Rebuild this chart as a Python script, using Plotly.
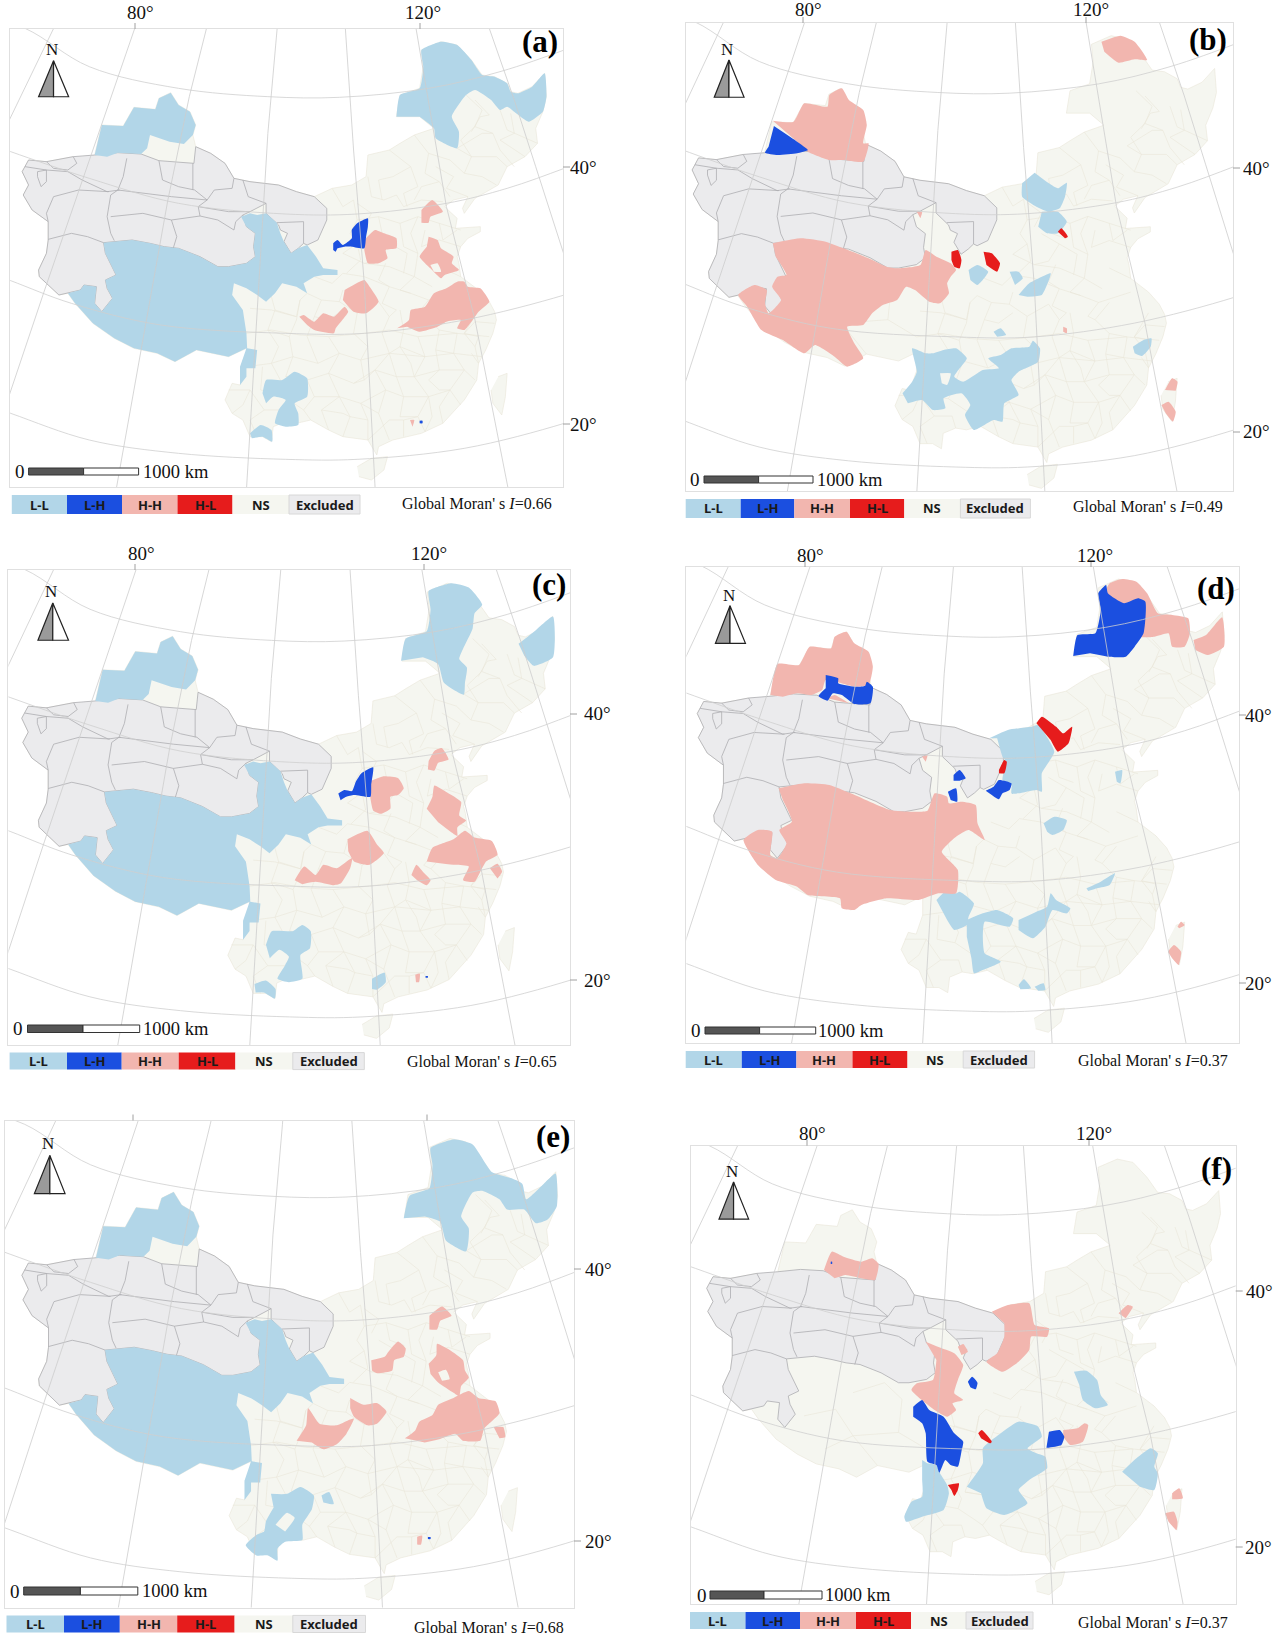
import plotly.graph_objs as go

W = 1278
H = 1637

# colours and labels of the classes
CLASSES = ['L-L', 'L-H', 'H-H', 'H-L', 'NS', 'Excluded']
CLASS_COLORS = ['#b2d6e8', '#1b4fe0', '#f2b6af', '#e61c1c', '#f5f6f0', '#ebebed']
MORAN_I = ['0.66', '0.49', '0.65', '0.37', '0.68', '0.37']
PANEL_NAMES = ['(a)', '(b)', '(c)', '(d)', '(e)', '(f)']

# ---- shared map geometry, map units of panel (a) ----
CHINA = [(265,465),(285,375),(345,378),(375,322),(435,328),(445,295),(478,278),(500,315),(532,335),(548,375),(540,405),
         (548,440),(590,460),(630,490),(655,535),(700,545),(780,555),(830,575),(880,590),(930,565),(985,555),(1025,530),
         (1030,465),(1090,450),(1120,430),(1160,405),(1215,385),(1175,350),(1110,350),(1120,285),(1175,265),(1185,200),
         (1180,150),(1235,125),(1280,135),(1320,180),(1350,225),(1385,230),(1420,250),(1430,275),(1450,280),(1490,260),
         (1525,220),(1530,290),(1520,335),(1500,385),(1505,430),(1470,470),(1420,500),(1395,555),(1330,595),(1300,640),
         (1295,625),(1310,590),(1270,600),(1245,620),(1280,655),(1275,685),(1345,680),(1345,695),(1310,715),(1290,740),
         (1280,770),(1285,790),(1290,830),(1340,870),(1370,905),(1385,935),(1390,960),(1380,1000),(1360,1050),(1340,1090),
         (1335,1140),(1300,1200),(1240,1270),(1180,1300),(1100,1320),(1060,1340),(1055,1365),(1030,1320),(960,1310),
         (920,1290),(870,1260),(830,1270),(800,1265),(765,1280),(760,1325),(735,1310),(700,1310),(680,1260),(650,1240),
         (630,1200),(650,1150),(672,1155),(690,1100),(690,1045),(640,1070),(550,1050),(490,1085),(440,1060),(375,1045),
         (320,1015),(260,970),(210,910),(190,880),(165,885),(110,830),(108,810),(130,760),(135,720),(135,665),(90,630),
         (65,585),(80,555),(62,515),(80,480),(130,485),(205,470)]
HAINAN = [(1000,1400),(1040,1375),(1085,1370),(1075,1410),(1040,1440),(1005,1430)]
TAIWAN = [(1395,1130),(1420,1120),(1415,1190),(1405,1245),(1380,1210),(1375,1170)]

EXCLUDED = [(62,515),(80,480),(130,485),(205,470),(265,465),(330,458),(395,462),(445,482),(543,490),(548,440),(590,460),
            (630,490),(655,535),(700,545),(780,555),(830,575),(880,590),(915,625),(915,660),(890,720),(860,735),(850,730),
            (835,745),(815,760),(795,725),(805,700),(785,690),(780,675),(745,640),(745,610),(700,635),(680,645),(690,680),
            (715,700),(710,740),(715,770),(690,790),(640,800),(610,800),(560,770),(500,745),(460,740),(420,730),(370,720),
            (290,728),(295,760),(325,825),(295,840),(300,865),(315,895),(285,935),(265,910),(270,860),(235,855),(225,870),
            (190,880),(165,885),(110,830),(108,810),(130,760),(135,720),(135,665),(90,630),(65,585),(80,555)]
EXCLUDED_LINES = [[(205,470),(215,490),(190,510),(150,505),(130,485)],
                  [(105,515),(130,510),(130,545),(115,560),(105,530),(105,515)],
                  [(70,500),(130,510),(190,515),(230,540),(300,575),(335,570)],
                  [(355,475),(345,530),(330,570),(310,585),(300,650),(310,700),(320,722)],
                  [(135,665),(130,640),(150,590),(220,570),(305,575)],
                  [(135,718),(200,700),(245,710),(290,728)],
                  [(445,482),(455,540),(500,560),(545,570),(580,600),(555,620),(560,648)],
                  [(540,490),(540,570)],
                  [(655,535),(650,565),(600,570),(580,600)],
                  [(680,540),(695,590),(745,610)],
                  [(555,620),(640,635),(700,635)],
                  [(330,570),(480,590),(580,600)],
                  [(480,660),(560,648),(610,660),(655,690),(660,665),(680,645)],
                  [(480,660),(495,710),(485,745)],
                  [(480,660),(400,640),(310,650)],
                  [(775,668),(850,665),(850,730)]]

# faint prefecture boundaries of the non significant area
DISTRICT_LINES = [[(930,565),(960,620),(990,600),(1000,660),(980,700),(1000,730),(960,760)],
                  [(1030,530),(1040,590),(1075,600),(1110,585),(1130,620),(1180,600),(1240,605)],
                  [(1090,450),(1150,500),(1170,560),(1130,580),(1140,620)],
                  [(1160,405),(1200,460),(1190,520),(1230,545),(1260,590)],
                  [(1280,445),(1320,470),(1300,520),(1350,530),(1390,555)],
                  [(1305,285),(1350,330),(1330,380),(1380,400),(1400,450),(1440,500)],
                  [(1400,330),(1420,390),(1505,430)],
                  [(1280,445),(1350,400),(1380,400)],
                  [(1200,460),(1260,480),(1300,520)],
                  [(1320,470),(1390,470),(1420,500)],
                  [(1000,660),(1060,650),(1120,670),(1170,650),(1230,670),(1290,690)],
                  [(1120,670),(1130,740),(1170,760),(1160,830),(1210,860)],
                  [(960,760),(1020,790),(1090,800),(1160,830)],
                  [(880,830),(930,850),(960,820),(1020,830),(1090,860),(1150,880)],
                  [(860,880),(900,900),(950,905),(960,870)],
                  [(690,1000),(760,990),(840,1005),(920,1010),(1020,1000),(1090,990),(1170,1010),(1280,1000),(1370,1010)],
                  [(700,925),(760,930),(830,950)],
                  [(755,870),(770,930),(750,990),(780,1040),(760,1090),(690,1100)],
                  [(840,900),(830,960),(810,1010),(820,1070),(800,1130),(860,1140)],
                  [(1060,905),(1090,950),(1070,1000),(1090,1060),(1050,1110),(1080,1170),(1060,1240),(1090,1320)],
                  [(920,1010),(950,1060),(920,1120),(950,1190),(900,1230),(920,1290)],
                  [(1170,1010),(1190,1070),(1160,1130),(1200,1190),(1170,1250),(1190,1295)],
                  [(1280,1000),(1270,1060),(1300,1110),(1260,1170),(1290,1215)],
                  [(820,1070),(890,1090),(950,1060),(1010,1080),(1090,1060),(1190,1070),(1270,1060),(1350,1070)],
                  [(800,1130),(860,1140),(920,1120),(990,1150),(1050,1110),(1110,1130),(1160,1130),(1230,1110),(1300,1110)],
                  [(860,1140),(880,1190),(950,1190),(1010,1210),(1080,1170),(1130,1190),(1200,1190),(1260,1170)],
                  [(880,1190),(850,1230),(870,1260)],
                  [(950,1190),(980,1250),(960,1310)],
                  [(1010,1210),(1030,1260),(1030,1320),(1090,1260),(1130,1260),(1170,1250)],
                  [(640,1170),(700,1170),(740,1230),(700,1260),(720,1310)],
                  [(735,1100),(730,1170),(780,1180)],
                  [(1340,930),(1300,1000),(1330,1040),(1340,1090)],
                  [(1230,900),(1190,950),(1230,990),(1280,1000)],
                  [(1150,880),(1200,900),(1290,870)],
                  [(1230,800),(1290,830)],
                  [(1040,700),(1090,730),(1060,780),(1020,790)],
                  [(1190,690),(1180,740),(1230,720),(1290,740)],
                  [(480,830),(570,800),(620,850),(610,950),(690,1000)],
                  [(340,900),(430,880),(480,960),(550,1050)],
                  [(400,1000),(480,960),(610,950)],
                  [(1330,300),(1370,345),(1345,350),(1320,395)],
                  [(1430,340),(1440,400),(1400,420),(1470,470)],
                  [(1330,380),(1290,420),(1320,470)],
                  [(1220,500),(1270,530),(1250,565),(1310,590)],
                  [(1150,500),(1100,530),(1060,540),(1070,600)],
                  [(1000,610),(1040,640),(1020,680)],
                  [(1160,600),(1180,560),(1230,545)],
                  [(1060,650),(1070,700),(1110,715)],
                  [(1170,650),(1150,700),(1170,760)],
                  [(1230,670),(1240,720),(1280,690)],
                  [(1090,730),(1140,760),(1130,820)],
                  [(1000,730),(1010,780),(970,820)],
                  [(1080,790),(1060,840),(1090,860)],
                  [(1160,830),(1120,870),(1150,880)],
                  [(1090,860),(1070,910),(1110,930),(1090,950)],
                  [(1200,900),(1170,940),(1190,950)],
                  [(900,900),(880,950),(920,960),(960,930)],
                  [(950,905),(1000,940),(1060,905)],
                  [(1000,940),(990,1000),(1030,1040),(1010,1080)],
                  [(880,950),(860,1010),(890,1090)],
                  [(1120,930),(1130,990),(1120,1040),(1190,1070)],
                  [(1230,990),(1220,1050),(1270,1060)],
                  [(1300,1000),(1340,1010),(1330,1040)],
                  [(1090,1060),(1120,1040),(1150,1090),(1160,1130)],
                  [(1220,1050),(1230,1110),(1200,1140),(1230,1170),(1260,1170)],
                  [(1090,1060),(1110,1130),(1130,1190),(1120,1250),(1170,1250)],
                  [(1010,1080),(1020,1140),(990,1150)],
                  [(1020,1140),(1050,1110)],
                  [(1010,1210),(1060,1240)],
                  [(900,1230),(960,1240),(980,1250),(1030,1260)],
                  [(820,1070),(760,1090),(790,1150),(780,1180),(830,1215),(850,1230)],
                  [(700,1170),(680,1215),(650,1240)],
                  [(740,1230),(790,1230),(800,1265)],
                  [(1300,1110),(1330,1140)],
                  [(1260,1170),(1230,1220),(1240,1270)],
                  [(1200,1190),(1210,1250),(1190,1295)],
                  [(1130,1260),(1130,1310)],
                  [(1320,1060),(1340,1090)],
                  [(770,930),(830,950),(840,900),(860,880)],
                  [(750,990),(810,1010)],
                  [(1385,970),(1330,965),(1300,1000)]]

# parallels and meridians in map units
PARALLELS = [[(-100,30),(70,85),(250,200),(500,265),(750,290),(950,292),(1200,265),(1400,215),(1580,150),(1700,100)],
             [(-100,405),(30,455),(250,535),(500,610),(800,642),(1000,642),(1250,610),(1420,565),(1580,505),(1700,455)],
             [(-100,790),(30,842),(200,910),(450,975),(800,1000),(1020,1000),(1300,960),(1580,885),(1700,840)],
             [(-100,1190),(30,1240),(250,1320),(500,1360),(800,1378),(1000,1378),(1300,1345),(1580,1270),(1700,1225)]]
MERIDIANS = [[(175,30),(150,85),(-10,440)],
             [(395,30),(377,86),(230,540),(125,870),(-10,1300)],
             [(590,30),(578,86),(530,290),(470,600),(420,900),(310,1560)],
             [(780,30),(776,86),(750,400),(730,750),(720,950),(685,1560)],
             [(963,30),(967,86),(990,450),(1020,850),(1055,1560)],
             [(1155,30),(1165,86),(1250,620),(1330,960),(1440,1560)],
             [(1352,30),(1370,86),(1440,300),(1500,500),(1620,900)]]

# clusters that stay the same in (a), (c) and (e)
LL_NORTHWEST = [(265,465),(285,375),(345,378),(375,322),(435,328),(445,295),(478,278),(500,315),(532,335),(548,375),(540,405),
                (515,432),(475,425),(420,405),(412,445),(395,462),(330,458),(300,470)]
LL_PLATEAU = [(290,728),(370,720),(420,730),(460,740),(500,745),(560,770),(610,800),(640,800),(690,790),(715,770),(710,740),
              (715,700),(690,680),(675,650),(700,640),(720,645),(745,640),(775,668),(785,700),(795,725),(815,760),(835,745),
              (860,735),(885,770),(905,805),(945,810),(945,825),(905,825),(880,830),(850,850),(860,880),(830,860),(790,850),
              (770,880),(745,905),(720,885),(690,865),(655,850),(650,885),(680,930),(690,1000),(692,1045),(720,1050),(715,1105),
              (690,1105),(690,1130),(672,1155),(672,1100),(690,1045),(640,1070),(550,1050),(490,1085),(440,1060),(375,1045),
              (320,1015),(260,970),(210,910),(190,880),(225,870),(235,855),(270,860),(265,910),(285,935),(315,895),(300,865),
              (295,840),(325,825),(295,760)]

# ---- clusters of each panel, read in that panel's own map units ----
A_LL = [[(1110,350),(1120,285),(1175,265),(1185,200),(1180,150),(1235,125),(1280,135),(1320,180),(1350,225),(1385,230),(1420,250),
         (1430,275),(1450,280),(1490,260),(1525,220),(1530,290),(1520,335),(1480,365),(1445,340),(1420,320),(1400,330),(1375,300),
         (1330,270),(1305,285),(1265,350),(1285,395),(1280,445),(1220,415),(1215,385),(1175,350)],
        [(735,1180),(745,1140),(790,1140),(825,1115),(860,1135),(860,1190),(825,1210),(835,1240),(835,1275),(800,1280),(770,1270),
         (780,1230),(800,1200),(765,1190),(745,1210)],
        [(700,1300),(730,1275),(760,1290),(762,1325),(735,1310),(705,1315)]]
A_HH = [[(1180,630),(1210,600),(1240,635),(1205,650),(1200,668),(1180,668)],
        [(1020,720),(1050,690),(1075,700),(1110,715),(1110,745),(1080,750),(1085,775),(1060,790),(1030,790),(1020,750)],
        [(1200,710),(1225,720),(1235,745),(1270,770),(1265,790),(1285,810),(1245,825),(1235,835),(1205,805),(1175,770),(1195,740)],
        [(965,870),(1020,840),(1035,860),(1060,905),(1025,940),(990,935),(960,900)],
        [(838,950),(850,945),(880,965),(905,940),(935,950),(965,920),(975,935),(940,985),(935,1000),(880,990),(860,975)],
        [(1112,985),(1145,960),(1150,930),(1190,920),(1215,880),(1250,865),(1280,845),(1300,845),(1310,860),(1345,865),(1370,905),
         (1340,935),(1320,965),(1300,990),(1280,985),(1290,960),(1250,965),(1225,980),(1175,995),(1140,980)],
        [(1148,1260),(1160,1260),(1155,1280)]]
A_LH = [[(933,730),(945,720),(960,735),(985,715),(985,690),(1000,670),(1030,655),(1030,680),(1025,710),(1020,745),(985,740),
         (965,740),(945,745),(940,755),(933,750)],
        [(1175,1262),(1183,1262),(1183,1270),(1175,1270)]]
A_HL = []
A_NS = [[(1205,795),(1225,790),(1235,815),(1215,815)]]

B_LL = [[(1105,518),(1145,550),(1170,565),(1195,548),(1190,590),(1175,625),(1145,635),(1110,620),(1070,590),(1070,550)],
        [(1125,635),(1170,635),(1195,665),(1170,700),(1140,700),(1115,680)],
        [(920,810),(945,795),(975,815),(945,855),(925,840)],
        [(1035,815),(1060,815),(1072,835),(1050,855)],
        [(1060,885),(1090,850),(1150,820),(1145,840),(1125,885),(1085,890)],
        [(990,995),(1010,985),(1025,1005),(1000,1010)],
        [(1380,1040),(1410,1020),(1432,1015),(1430,1040),(1405,1068),(1385,1060)],
        [(735,1180),(762,1145),(775,1115),(762,1045),(800,1060),(820,1060),(850,1050),(885,1045),(915,1075),(895,1105),(880,1130),
         (905,1145),(960,1110),(1005,1105),(975,1075),(1010,1065),(1040,1045),(1090,1040),(1100,1022),(1120,1045),(1115,1085),
         (1060,1115),(1040,1140),(1060,1185),(1020,1210),(1015,1265),(990,1260),(935,1290),(910,1245),(925,1215),(900,1180),
         (850,1195),(855,1225),(820,1230),(790,1200),(750,1210)]]
B_HH = [[(372,362),(430,365),(460,310),(525,320),(530,285),(565,265),(585,300),(625,330),(635,375),(625,430),(640,430),(625,485),
         (570,480),(530,480),(470,455),(440,425)],
        [(372,730),(450,715),(520,725),(570,745),(640,775),(690,800),(720,805),(785,795),(800,750),(830,770),(870,790),(885,810),
         (870,830),(860,850),(865,880),(840,910),(810,905),(770,870),(745,860),(720,900),(680,915),(650,940),(625,975),(580,980),
         (600,1030),(625,1075),(580,1100),(545,1070),(490,1035),(460,1060),(400,1020),(340,990),(300,920),(275,885),(320,855),
         (355,870),(350,910),(360,940),(395,900),(370,860),(385,830),(410,825),(380,770)],
        [(775,635),(790,635),(785,655)],
        [(1185,980),(1195,985),(1195,1000),(1185,995)],
        [(1292,125),(1345,107),(1385,125),(1420,180),(1385,178),(1340,188),(1300,155)],
        [(1470,1170),(1490,1135),(1505,1145),(1500,1172)],
        [(1460,1215),(1480,1205),(1500,1235),(1492,1265),(1472,1240)]]
B_LH = [[(375,378),(440,425),(470,450),(440,460),(385,465),(350,458),(360,440)]]
B_HL = [[(872,755),(890,750),(900,780),(895,805),(880,800),(872,780)],
        [(962,755),(985,760),(1008,790),(1000,815),(970,795)],
        [(1170,695),(1180,685),(1198,710),(1190,715)]]
B_NS = [[(840,1120),(870,1120),(860,1155),(845,1150)]]

C_LL = [[(1048,355),(1060,290),(1115,268),(1125,205),(1120,150),(1180,127),(1225,140),(1260,190),(1240,215),(1235,260),(1210,320),
         (1200,350),(1220,375),(1215,420),(1212,455),(1160,420),(1145,365),(1105,345)],
        [(1355,305),(1400,265),(1445,225),(1445,345),(1395,370),(1370,340)],
        [(695,1190),(710,1150),(765,1150),(790,1132),(812,1150),(810,1200),(785,1220),(790,1290),(755,1300),(725,1290),(745,1250),
         (755,1225),(730,1205),(705,1230)],
        [(665,1305),(695,1295),(720,1320),(718,1348),(690,1330),(668,1330)],
        [(972,1290),(1005,1272),(1008,1300),(985,1322),(972,1320)]]
C_HH = [[(1120,650),(1135,620),(1155,612),(1172,645),(1145,655),(1135,678),(1118,675)],
        [(965,710),(1000,695),(1040,700),(1055,730),(1040,750),(1020,755),(1020,790),(995,805),(975,795),(968,760)],
        [(1115,790),(1130,755),(1135,722),(1165,740),(1205,770),(1200,810),(1218,825),(1195,845),(1195,870),(1180,860),(1145,830)],
        [(908,880),(960,855),(985,895),(1003,920),(965,955),(925,945),(910,915)],
        [(770,1000),(795,960),(825,985),(845,955),(880,965),(920,935),(915,965),(890,1010),(870,1015),(825,1005),(790,1012)],
        [(1075,985),(1088,955),(1105,975),(1125,1000),(1115,1015),(1090,1000)],
        [(1115,945),(1130,905),(1185,880),(1215,855),(1240,875),(1285,885),(1300,925),(1270,945),(1255,975),(1240,1005),(1210,1000),
         (1225,960),(1190,955),(1150,950)],
        [(1280,965),(1300,952),(1312,975),(1300,995)],
        [(1085,1278),(1097,1275),(1095,1300),(1087,1300)]]
C_LH = [[(884,745),(900,735),(920,738),(930,710),(945,685),(975,668),(970,720),(968,755),(925,750),(905,755),(890,765)],
        [(1112,1282),(1118,1282),(1118,1287),(1112,1287)]]
C_HL = []
C_NS = []

D_LL = [[(978,625),(1030,600),(1095,590),(1115,585),(1160,665),(1125,730),(1125,785),(1110,780),(1060,790),(1040,790),(1040,765),
         (1015,750),(1025,695),(1015,680),(1000,625)],
        [(1130,880),(1160,860),(1195,870),(1185,900),(1155,915),(1140,905)],
        [(1330,725),(1350,720),(1345,760),(1335,755)],
        [(1250,1075),(1290,1055),(1330,1030),(1315,1065),(1280,1075),(1255,1083)],
        [(830,1110),(860,1080),(885,1090),(895,1085),(935,1120),(920,1160),(915,1185),(880,1200),(860,1170)],
        [(915,1170),(960,1150),(1000,1140),(1045,1165),(1035,1190),(965,1175),(960,1225),(965,1270),(1010,1295),(960,1320),(935,1330),
         (928,1285),(915,1220)],
        [(1060,1170),(1110,1145),(1140,1130),(1150,1090),(1165,1110),(1205,1135),(1195,1150),(1155,1140),(1135,1190),(1100,1225),(1060,1200)],
        [(1060,1365),(1075,1348),(1095,1375),(1065,1378)],
        [(1105,1370),(1130,1360),(1135,1380),(1115,1382)]]
D_HH = [[(365,495),(385,402),(445,405),(475,350),(535,355),(545,320),(578,305),(600,340),(640,365),(652,410),(640,465),(600,470),
         (520,450),(510,480),(480,495),(440,490),(400,500)],
        [(525,505),(545,495),(585,520)],
        [(1300,190),(1315,160),(1350,147),(1390,155),(1420,190),(1450,250),(1490,255),(1535,265),(1540,310),(1525,350),(1490,350),(1480,310),
         (1440,320),(1400,320),(1400,220),(1355,225),(1310,200)],
        [(1550,330),(1585,315),(1630,262),(1635,350),(1590,375),(1555,360)],
        [(388,775),(460,760),(530,765),(590,790),(700,840),(760,845),(805,842),(825,790),(860,800),(865,820),(900,815),(940,825),
         (945,880),(965,930),(920,900),(885,920),(845,965),(890,1020),(885,1090),(835,1090),(780,1110),(690,1105),(620,1125),(600,1140),
         (565,1135),(560,1105),(470,1095),(440,1070),(380,1050),(330,1005),(290,930),(330,900),(370,905),(365,975),(385,985),(410,940),
         (390,900),(425,875),(400,810)],
        [(790,680),(805,675),(800,695)],
        [(1505,1190),(1515,1175),(1525,1185),(1510,1195)],
        [(1478,1265),(1495,1245),(1515,1265),(1508,1305),(1490,1285)]]
D_LH = [[(520,435),(555,445),(555,460),(600,470),(630,468),(635,455),(652,470),(645,520),(600,522),(565,495),(540,490),(525,512),
         (500,498),(520,475)],
        [(1213,378),(1225,315),(1275,310),(1290,240),(1283,190),(1305,165),(1310,190),(1355,220),(1395,205),(1415,215),(1410,310),
         (1385,350),(1360,380),(1310,380),(1260,370)],
        [(968,782),(990,770),(1005,750),(1040,760),(1035,780),(1015,790),(1005,808),(985,795)],
        [(878,735),(895,720),(912,745),(895,752),(878,752)],
        [(862,785),(885,775),(888,815),(870,810)]]
D_HL = [[(1110,580),(1125,560),(1165,590),(1185,610),(1210,590),(1200,640),(1170,665),(1150,630)],
        [(1005,720),(1020,690),(1027,695),(1020,730),(1005,730)]]
D_NS = []

E_LL = [[(1055,345),(1070,280),(1122,258),(1130,190),(1125,140),(1185,115),(1235,130),(1285,210),(1340,230),(1365,245),(1375,290),
         (1425,240),(1452,215),(1455,310),(1430,350),(1400,360),(1370,320),(1325,320),(1305,290),(1260,265),(1235,270),(1205,340),
         (1225,375),(1218,442),(1165,410),(1150,355),(1110,340)],
        [(708,1150),(750,1150),(785,1130),(820,1155),(815,1195),(790,1240),(790,1285),(745,1290),(725,1310),(725,1345),(700,1330),
         (670,1330),(642,1300),(670,1270),(690,1260),(695,1230),(715,1190)],
        [(840,1155),(860,1145),(872,1180),(845,1175)]]
E_HH = [[(1122,630),(1155,603),(1180,630),(1150,645),(1142,670),(1122,670)],
        [(970,760),(1005,750),(1015,735),(1040,705),(1060,725),(1055,750),(1030,760),(1025,790),(985,798),(972,790)],
        [(1120,770),(1140,745),(1142,712),(1175,730),(1210,760),(1215,790),(1225,810),(1205,835),(1200,865),(1185,855),(1145,825),(1125,800)],
        [(915,870),(950,890),(985,885),(1010,910),(985,945),(960,950),(925,925),(915,900)],
        [(775,995),(800,950),(805,900),(835,945),(880,950),(910,935),(925,930),(905,975),(880,1005),(845,1020),(815,1000)],
        [(1058,988),(1085,965),(1095,940),(1130,920),(1145,890),(1185,870),(1225,850),(1250,870),(1295,880),(1305,915),(1265,960),
         (1255,995),(1210,995),(1190,975),(1150,990),(1110,1000)],
        [(1290,955),(1315,955),(1320,985),(1305,988)],
        [(1090,1275),(1103,1272),(1100,1298),(1090,1298)]]
E_LH = [[(1118,1276),(1125,1276),(1125,1282),(1118,1282)]]
E_HL = []
E_NS = [[(1145,795),(1165,788),(1175,815),(1155,820)],
        [(720,1240),(750,1205),(770,1220),(745,1260)]]

F_LL = [[(1215,935),(1250,932),(1280,960),(1290,1005),(1310,1035),(1275,1045),(1240,1020),(1230,975)],
        [(1350,1235),(1390,1195),(1430,1165),(1450,1180),(1440,1220),(1450,1240),(1440,1290),(1400,1280)],
        [(915,1280),(960,1210),(960,1165),(1010,1120),(1060,1085),(1115,1100),(1125,1130),(1085,1165),(1110,1180),(1135,1190),(1140,1225),
         (1090,1260),(1060,1290),(1085,1330),(1020,1365),(970,1345),(955,1300)],
        [(790,1200),(805,1210),(830,1215),(840,1240),(860,1275),(865,1300),(850,1350),(790,1370),(745,1385),(740,1370),(760,1325),(790,1310),(790,1260)]]
F_HH = [[(515,630),(537,575),(570,590),(620,605),(650,595),(668,612),(658,660),(620,655),(575,645),(545,655)],
        [(985,755),(1030,735),(1090,730),(1105,795),(1145,805),(1140,830),(1095,830),(1090,870),(1060,905),(1015,935),(970,905),(1000,880),(1020,830),(1020,790)],
        [(1340,760),(1365,735),(1380,740),(1360,775)],
        [(800,845),(845,865),(880,880),(905,915),(890,960),(880,1000),(905,1020),(875,1030),(885,1050),(860,1070),(825,1050),(760,990),(775,970),(820,960),(830,900)],
        [(890,860),(905,852),(918,875),(900,885)],
        [(1185,1110),(1225,1105),(1245,1090),(1255,1095),(1240,1145),(1205,1155),(1185,1130)],
        [(1490,1300),(1510,1285),(1520,1315),(1490,1318)],
        [(1470,1360),(1495,1355),(1505,1385),(1502,1410),(1480,1385)]]
F_LH = [[(534,605),(538,605),(538,612),(534,612)],
        [(918,965),(930,950),(945,968),(940,988),(925,982)],
        [(765,1040),(790,1020),(810,1050),(850,1070),(880,1120),(905,1145),(900,1175),(890,1220),(870,1215),(855,1200),(838,1238),(830,1215),(805,1205),(800,1120),(790,1090),(765,1070)],
        [(1145,1115),(1175,1110),(1188,1130),(1180,1155),(1145,1163),(1138,1163)]]
F_HL = [[(947,1120),(957,1110),(985,1145),(980,1150),(955,1135)],
        [(862,1275),(893,1270),(890,1290),(880,1308),(872,1290)]]
F_NS = []

# per panel: clusters, fit of the shared map, crop scale, and where things sit on the page
PANELS = [
    dict(ll=A_LL, hh=A_HH, lh=A_LH, hl=A_HL, ns=A_NS, shared=True,
         fit=(1, 0, 1, 0), crop=(0, 0, 2.8, 3), frame=(10, 29, 563, 487),
         top=[(135, 140, 13, '80°'), (420, 423, 13, '120°')], right=[(167, 583, '40°'), (424, 583, '20°')],
         letter=(540, 42), north=(53.6, 60.7, 96.7, 38.6, 68.6, 49), scale=(20, 28.6, 83.6, 138.6, 468, 475, 141),
         legend=(11.8, 67, 122, 177.5, 232.5, 289, 360, 495, 514), moran=(477, 503)),
    dict(ll=B_LL, hh=B_HH, lh=B_LH, hl=B_HL, ns=B_NS, shared=False,
         fit=(1, 84, 1.0327, -22), crop=(640, 0, 2.8, 3), frame=(686, 23, 1233, 491),
         top=[(803, 808, 10, '80°'), (1086, 1091, 10, '120°')], right=[(168, 1256, '40°'), (432, 1256, '20°')],
         letter=(1208, 40), north=(729, 60, 97.3, 714.3, 744, 49), scale=(695, 704, 758.6, 813, 476, 483, 815),
         legend=(685.7, 740.7, 794.3, 850, 904.3, 960.4, 1030.4, 499, 518), moran=(1148, 507)),
    dict(ll=C_LL, hh=C_HH, lh=C_LH, hl=C_HL, ns=C_NS, shared=True,
         fit=(.948, -2, 1.0175, 0), crop=(0, 540, 2.613, 2.94), frame=(8.4, 570, 570, 1045),
         top=[(135, 141, 553.6, '80°'), (424, 428.6, 553.6, '120°')], right=[(714, 597, '40°'), (980, 597, '20°')],
         letter=(549, 584), north=(52.8, 603, 640.3, 37.9, 68.5, 591), scale=(18, 27.5, 83, 139.7, 1025, 1032.5, 141),
         legend=(9.6, 67, 121.7, 178.7, 235.4, 292.8, 364.3, 1052.6, 1069.6), moran=(482, 1061)),
    dict(ll=D_LL, hh=D_HH, lh=D_LH, hl=D_HL, ns=D_NS, shared=False,
         fit=(1.005, 98, 1.034, 18), crop=(640, 530, 2.8, 3), frame=(686.4, 567, 1239, 1043),
         top=[(805, 810, 555, '80°'), (1091, 1095, 555, '120°')], right=[(715, 1258, '40°'), (983, 1258, '20°')],
         letter=(1216, 588), north=(730, 605.7, 643.3, 715.4, 745.4, 595), scale=(696, 705, 759.6, 815.7, 1027, 1034, 816.5),
         legend=(685.7, 741.8, 796.4, 852.5, 907.5, 963.2, 1034.6, 1051, 1068), moran=(1153, 1060)),
    dict(ll=E_LL, hh=E_HH, lh=E_LH, hl=E_HL, ns=E_NS, shared=True,
         fit=(.9536, -2, 1.025, -16), crop=(0, 1100, 2.613, 2.92), frame=(4.6, 1120.5, 574, 1607.5),
         top=[(133, None, None, ''), (427, None, None, '')], right=[(1269, 598, '40°'), (1541, 598, '20°')],
         letter=(553, 1136), north=(49.8, 1155.5, 1193.5, 34.4, 65, 1143), scale=(14.5, 23.7, 80.4, 137.8, 1587, 1595, 139.5),
         legend=(6.5, 64, 119.8, 177.2, 234.6, 292.8, 365.5, 1615.4, 1632.5), moran=(489, 1627)),
    dict(ll=F_LL, hh=F_HH, lh=F_LH, hl=F_HL, ns=F_NS, shared=False,
         fit=(.98, 126, .994, 173), crop=(640, 1060, 2.8, 3), frame=(691, 1145.7, 1235.7, 1604),
         top=[(807, 812.5, 1133, '80°'), (1089, 1094, 1133, '120°')], right=[(1291, 1259, '40°'), (1547, 1258, '20°')],
         letter=(1216, 1168), north=(733.6, 1182, 1219, 719, 748.6, 1171), scale=(701.5, 710, 764, 822, 1591, 1599, 823),
         legend=(690, 745.5, 800, 856, 911, 966, 1033, 1612, 1629), moran=(1153, 1622)),
]


def fx(px):
    return px / W


def fy(py):
    return 1 - py / H


def flat(polys):
    xs, ys = [], []
    for poly in polys:
        xs += [pt[0] for pt in poly] + [None]
        ys += [pt[1] for pt in poly] + [None]
    return xs, ys


def fitted(polys, fit):
    sx, ox, sy, oy = fit
    return [[(sx * x + ox, sy * y + oy) for x, y in poly] for poly in polys]


fig = go.Figure()
layout = dict(width=W, height=H, margin=dict(l=0, r=0, t=0, b=0), paper_bgcolor='white', plot_bgcolor='white',
              showlegend=False, hovermode=False)
shapes = []
notes = []


def note(px, py, text, size, family='Liberation Serif', anchor='center', bold=False, color='#111111'):
    notes.append(dict(xref='paper', yref='paper', x=fx(px), y=fy(py), text='<b>%s</b>' % text if bold else text,
                      showarrow=False, xanchor=anchor, yanchor='middle', font=dict(family=family, size=size, color=color)))


def poly_shape(xs, ys, fill, line='#222222', width=1.2):
    path = 'M' + ' L'.join('%.4f,%.4f' % (fx(x), fy(y)) for x, y in zip(xs, ys)) + ' Z'
    shapes.append(dict(type='path', xref='paper', yref='paper', path=path, fillcolor=fill,
                       line=dict(color=line, width=width)))


for i, p in enumerate(PANELS):
    n = i + 1
    xa = 'x%d' % n
    ya = 'y%d' % n
    cx0, cy0, kx, ky = p['crop']
    left, top, right, bottom = p['frame']
    axis = dict(showgrid=False, zeroline=False, showticklabels=False, ticks='', showline=True, mirror=True,
                linecolor='#e0e0e0', linewidth=1.3, fixedrange=True)
    layout['xaxis%d' % n] = dict(axis, domain=[fx(left), fx(right)], anchor=ya,
                                 range=[(left - cx0) * kx, (right - cx0) * kx])
    layout['yaxis%d' % n] = dict(axis, domain=[fy(bottom), fy(top)], anchor=xa,
                                 range=[(bottom - cy0) * ky, (top - cy0) * ky])

    def area(polys, color, name, shape='spline'):
        xs, ys = flat(polys)
        fig.add_trace(go.Scatter(x=xs, y=ys, xaxis=xa, yaxis=ya, mode='lines', fill='toself', fillcolor=color,
                                 line=dict(width=0, color=color, shape=shape, smoothing=0.5), name=name, hoverinfo='skip'))

    def lines(polys, color, width, shape='linear'):
        xs, ys = flat(polys)
        fig.add_trace(go.Scatter(x=xs, y=ys, xaxis=xa, yaxis=ya, mode='lines', hoverinfo='skip',
                                 line=dict(color=color, width=width, shape=shape)))

    fit = p['fit']
    area(fitted([CHINA, HAINAN, TAIWAN], fit), CLASS_COLORS[4], 'NS', 'linear')
    lines(fitted(DISTRICT_LINES + [CHINA, HAINAN, TAIWAN], fit), '#e9e6d9', 0.6)
    area(fitted([EXCLUDED], fit), CLASS_COLORS[5], 'Excluded', 'linear')
    lines(fitted(EXCLUDED_LINES + [EXCLUDED + EXCLUDED[:1]], fit), '#adadb1', 0.8)

    ll = p['ll']
    if p['shared']:
        area(fitted([LL_NORTHWEST, LL_PLATEAU], fit), CLASS_COLORS[0], 'L-L', 'linear')
    area(ll, CLASS_COLORS[0], 'L-L')
    area(p['hh'], CLASS_COLORS[2], 'H-H')
    if p['lh']:
        area(p['lh'], CLASS_COLORS[1], 'L-H')
    if p['hl']:
        area(p['hl'], CLASS_COLORS[3], 'H-L')
    if p['ns']:
        area(p['ns'], CLASS_COLORS[4], 'NS')

    lines(fitted(PARALLELS, fit), '#cfcfcf', 0.8, 'spline')
    lines(fitted(MERIDIANS, fit), '#cdcdcd', 0.8)

    # ticks and graticule labels
    for tick_x, label_x, label_y, text in p['top']:
        shapes.append(dict(type='line', xref='paper', yref='paper', x0=fx(tick_x), x1=fx(tick_x), y0=fy(top), y1=fy(top - 6),
                           line=dict(color='#a0a0a0', width=1)))
        if text:
            note(label_x, label_y, text, 19)
    for tick_y, label_x, text in p['right']:
        shapes.append(dict(type='line', xref='paper', yref='paper', x0=fx(right), x1=fx(right + 7), y0=fy(tick_y), y1=fy(tick_y),
                           line=dict(color='#a0a0a0', width=1)))
        note(label_x, tick_y, text, 19)

    note(p['letter'][0], p['letter'][1], PANEL_NAMES[i], 31, bold=True, color='black')

    # north arrow
    ax, ay, by, bl, br, ny = p['north']
    note(ax - 1.5, ny, 'N', 17)
    poly_shape([ax, bl, ax], [ay, by, by], '#9a9a9a')
    poly_shape([ax, br, ax], [ay, by, by], 'white')

    # scale bar
    zero_x, s0, s1, s2, sy0, sy1, text_x = p['scale']
    note(zero_x, (sy0 + sy1) / 2, '0', 19)
    shapes.append(dict(type='rect', xref='paper', yref='paper', x0=fx(s0), x1=fx(s1), y0=fy(sy0), y1=fy(sy1),
                       fillcolor='#555555', line=dict(color='#333333', width=1)))
    shapes.append(dict(type='rect', xref='paper', yref='paper', x0=fx(s1), x1=fx(s2), y0=fy(sy0), y1=fy(sy1),
                       fillcolor='white', line=dict(color='#333333', width=1)))
    note(text_x, (sy0 + sy1) / 2, '1000 km', 18.5, anchor='left')

    # legend strip
    edges = p['legend'][:7]
    ly0, ly1 = p['legend'][7:]
    for k, label in enumerate(CLASSES):
        shapes.append(dict(type='rect', xref='paper', yref='paper', x0=fx(edges[k]), x1=fx(edges[k + 1]), y0=fy(ly0), y1=fy(ly1),
                           fillcolor=CLASS_COLORS[k], line=dict(width=0)))
        note((edges[k] + edges[k + 1]) / 2, (ly0 + ly1) / 2, label, 13, family='Noto Sans', bold=True, color='#1a1a1a')
    shapes.append(dict(type='rect', xref='paper', yref='paper', x0=fx(edges[5]), x1=fx(edges[6]), y0=fy(ly0), y1=fy(ly1),
                       line=dict(color='#d8d8d8', width=1)))

    note(p['moran'][0], p['moran'][1], "Global Moran' s <i>I</i>=%s" % MORAN_I[i], 16)

layout['shapes'] = shapes
layout['annotations'] = notes
fig.update_layout(**layout)
fig.write_html("out.html", config=dict(displayModeBar=False), post_script="document.body.style.margin='0';")
